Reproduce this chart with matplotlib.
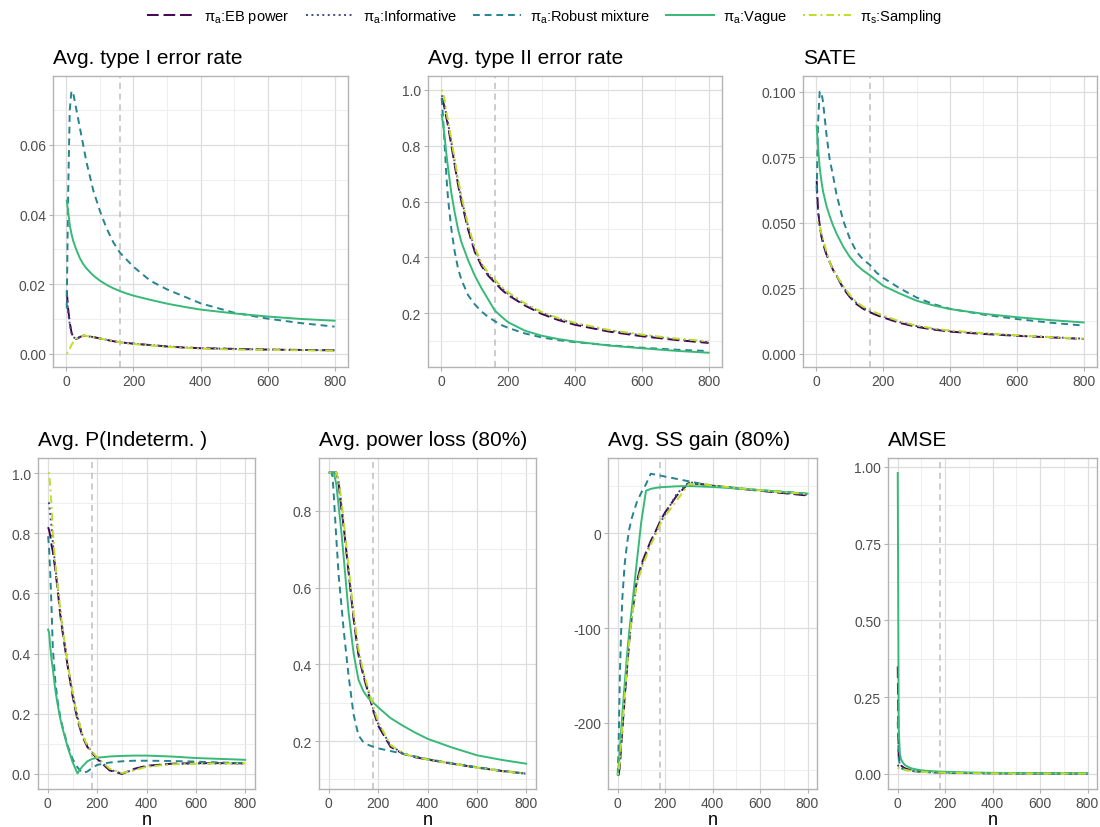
import numpy as np
import matplotlib
matplotlib.use('Agg')
import matplotlib.pyplot as plt
from matplotlib.lines import Line2D
from matplotlib.ticker import MultipleLocator, AutoMinorLocator, FormatStrFormatter

plt.rcParams['font.family'] = ['Liberation Sans', 'DejaVu Sans']
plt.rcParams['mathtext.fontset'] = 'custom'
plt.rcParams['mathtext.rm'] = 'Liberation Sans'
plt.rcParams['mathtext.it'] = 'Liberation Sans:italic'

# sample sizes (shared by every panel)
n_vals = [1, 5, 10, 15, 20, 30, 40, 50, 60, 80, 100, 120, 140, 160, 180, 200, 250, 300, 350, 400, 500, 600, 700, 800]

# Avg. type I error rate
t1_eb = [0.018, 0.013, 0.009, 0.0062, 0.0048, 0.0042, 0.0048, 0.0052, 0.0051, 0.0048, 0.0044, 0.0040, 0.0036, 0.0033, 0.0031, 0.0029, 0.0025, 0.0021, 0.0018, 0.0016, 0.0014, 0.0012, 0.0011, 0.0010]
t1_inf = [0.017, 0.012, 0.0085, 0.006, 0.0048, 0.0043, 0.0049, 0.0052, 0.0051, 0.0048, 0.0044, 0.0040, 0.0036, 0.0033, 0.0031, 0.0029, 0.0025, 0.0021, 0.0018, 0.0016, 0.0014, 0.0012, 0.0011, 0.0010]
t1_rob = [0.013, 0.045, 0.070, 0.0755, 0.075, 0.070, 0.065, 0.060, 0.055, 0.047, 0.041, 0.036, 0.032, 0.029, 0.027, 0.025, 0.021, 0.0185, 0.0165, 0.0145, 0.0118, 0.0101, 0.0088, 0.0078]
t1_vag = [0.044, 0.041, 0.037, 0.0345, 0.0325, 0.0298, 0.0275, 0.0258, 0.0245, 0.0225, 0.021, 0.0198, 0.0188, 0.018, 0.0173, 0.0167, 0.0155, 0.0144, 0.0135, 0.0127, 0.0116, 0.0107, 0.0100, 0.0095]
t1_sam = [0.0, 0.0005, 0.0015, 0.0025, 0.0033, 0.0042, 0.0048, 0.0052, 0.0051, 0.0048, 0.0044, 0.0040, 0.0036, 0.0033, 0.0030, 0.0028, 0.0024, 0.0020, 0.0017, 0.0015, 0.0012, 0.0011, 0.0010, 0.0009]

# Avg. type II error rate
t2_eb = [0.97, 0.96, 0.93, 0.90, 0.87, 0.80, 0.73, 0.66, 0.60, 0.50, 0.42, 0.37, 0.335, 0.31, 0.285, 0.265, 0.228, 0.198, 0.176, 0.159, 0.135, 0.118, 0.105, 0.094]
t2_inf = [0.98, 0.97, 0.94, 0.91, 0.88, 0.81, 0.74, 0.67, 0.61, 0.51, 0.43, 0.375, 0.34, 0.315, 0.29, 0.27, 0.232, 0.202, 0.18, 0.163, 0.139, 0.121, 0.108, 0.097]
t2_rob = [0.97, 0.90, 0.80, 0.69, 0.61, 0.50, 0.42, 0.36, 0.32, 0.265, 0.232, 0.207, 0.187, 0.172, 0.158, 0.148, 0.128, 0.114, 0.104, 0.097, 0.086, 0.077, 0.070, 0.065]
t2_vag = [0.91, 0.88, 0.83, 0.77, 0.72, 0.63, 0.56, 0.50, 0.455, 0.39, 0.335, 0.29, 0.25, 0.21, 0.188, 0.168, 0.138, 0.12, 0.108, 0.099, 0.085, 0.075, 0.066, 0.059]
t2_sam = [1.0, 0.99, 0.96, 0.92, 0.89, 0.82, 0.75, 0.68, 0.62, 0.515, 0.435, 0.38, 0.345, 0.32, 0.295, 0.275, 0.236, 0.205, 0.183, 0.166, 0.141, 0.124, 0.11, 0.10]

# SATE
sate_eb = [0.066, 0.055, 0.049, 0.045, 0.042, 0.038, 0.035, 0.032, 0.030, 0.025, 0.0217, 0.019, 0.0172, 0.0159, 0.0148, 0.0139, 0.0118, 0.0103, 0.0093, 0.0085, 0.0076, 0.0069, 0.0063, 0.0057]
sate_inf = [0.064, 0.054, 0.049, 0.045, 0.043, 0.038, 0.035, 0.032, 0.030, 0.0255, 0.022, 0.0194, 0.0176, 0.0163, 0.0152, 0.0143, 0.0121, 0.0106, 0.0095, 0.0087, 0.0078, 0.0070, 0.0064, 0.0058]
sate_rob = [0.062, 0.088, 0.100, 0.100, 0.096, 0.084, 0.074, 0.068, 0.061, 0.051, 0.044, 0.039, 0.036, 0.034, 0.031, 0.029, 0.025, 0.0215, 0.019, 0.0172, 0.0150, 0.0133, 0.0119, 0.0108]
sate_vag = [0.087, 0.079, 0.071, 0.066, 0.062, 0.0565, 0.0525, 0.049, 0.046, 0.041, 0.037, 0.034, 0.0318, 0.030, 0.028, 0.026, 0.023, 0.0203, 0.0185, 0.0171, 0.0153, 0.014, 0.0129, 0.012]
sate_sam = [0.050, 0.050, 0.049, 0.046, 0.044, 0.039, 0.035, 0.032, 0.030, 0.026, 0.0225, 0.0198, 0.018, 0.0167, 0.0156, 0.0146, 0.0124, 0.0108, 0.0097, 0.0089, 0.0079, 0.0071, 0.0064, 0.0058]

# Avg. P(Indeterm. )
pi_eb = [0.82, 0.81, 0.79, 0.76, 0.74, 0.68, 0.61, 0.53, 0.47, 0.36, 0.26, 0.18, 0.125, 0.09, 0.07, 0.05, 0.012, 0.0, 0.017, 0.027, 0.034, 0.036, 0.036, 0.035]
pi_inf = [0.9, 0.9, 0.86, 0.82, 0.77, 0.69, 0.62, 0.545, 0.48, 0.37, 0.27, 0.19, 0.13, 0.095, 0.072, 0.053, 0.015, 0.001, 0.015, 0.026, 0.033, 0.035, 0.035, 0.035]
pi_rob = [0.79, 0.75, 0.66, 0.55, 0.42, 0.31, 0.24, 0.19, 0.155, 0.095, 0.05, 0.022, 0.003, 0.008, 0.02, 0.03, 0.038, 0.042, 0.044, 0.044, 0.043, 0.041, 0.038, 0.036]
pi_vag = [0.48, 0.47, 0.42, 0.38, 0.35, 0.28, 0.23, 0.185, 0.15, 0.09, 0.04, 0.002, 0.025, 0.042, 0.05, 0.054, 0.058, 0.06, 0.061, 0.061, 0.058, 0.053, 0.05, 0.047]
pi_sam = [1.0, 1.0, 0.95, 0.89, 0.81, 0.70, 0.62, 0.55, 0.48, 0.37, 0.27, 0.19, 0.13, 0.095, 0.073, 0.055, 0.018, 0.003, 0.012, 0.024, 0.032, 0.034, 0.035, 0.035]

# Avg. power loss (80%)
pl_eb = [0.9, 0.9, 0.9, 0.9, 0.9, 0.9, 0.87, 0.81, 0.76, 0.64, 0.52, 0.425, 0.37, 0.325, 0.28, 0.24, 0.185, 0.167, 0.158, 0.152, 0.141, 0.131, 0.122, 0.115]
pl_inf = [0.9, 0.9, 0.9, 0.9, 0.9, 0.9, 0.875, 0.82, 0.765, 0.645, 0.527, 0.43, 0.375, 0.33, 0.285, 0.245, 0.188, 0.168, 0.158, 0.152, 0.141, 0.131, 0.122, 0.115]
pl_rob = [0.9, 0.9, 0.9, 0.89, 0.84, 0.73, 0.63, 0.56, 0.49, 0.37, 0.27, 0.215, 0.197, 0.19, 0.185, 0.181, 0.174, 0.167, 0.16, 0.153, 0.142, 0.132, 0.123, 0.115]
pl_vag = [0.9, 0.9, 0.9, 0.9, 0.9, 0.87, 0.81, 0.75, 0.68, 0.535, 0.43, 0.36, 0.33, 0.312, 0.300, 0.288, 0.26, 0.24, 0.222, 0.206, 0.183, 0.163, 0.151, 0.141]
pl_sam = [0.9, 0.9, 0.9, 0.9, 0.9, 0.9, 0.88, 0.83, 0.775, 0.655, 0.535, 0.44, 0.38, 0.335, 0.29, 0.25, 0.19, 0.168, 0.158, 0.152, 0.141, 0.131, 0.122, 0.115]

# Avg. SS gain (80%)
ss_eb = [-255, -255, -245, -226, -209, -174, -143, -112, -88, -52, -33, -20, -8, 2, 13, 22, 40, 53, 52, 50, 47.5, 45, 42.5, 40]
ss_inf = [-255, -254, -243, -224, -207, -173, -142, -112, -89, -53, -35, -22, -10, 0, 11, 20, 42, 54, 52.5, 50.5, 47.8, 45.3, 42.8, 40.5]
ss_rob = [-255, -220, -150, -105, -70, -33, -11, 5, 16, 32, 43, 52, 63, 62, 61, 60, 57.5, 55, 52.5, 50.5, 48, 45.6, 43.8, 42]
ss_vag = [-255, -245, -228, -210, -192, -160, -129, -102, -80, -33, 12, 45, 47, 48, 48.7, 49, 49.7, 50, 49.5, 49, 47.5, 45.6, 43.8, 42]
ss_sam = [-255, -252, -240, -222, -205, -172, -142, -113, -90, -55, -38, -25, -12, -2, 10, 18, 35, 52, 52, 50.5, 48, 45.6, 43.5, 41.5]

# AMSE
amse_eb = [0.35, 0.06, 0.035, 0.028, 0.024, 0.019, 0.016, 0.014, 0.012, 0.0095, 0.008, 0.007, 0.006, 0.0055, 0.005, 0.0045, 0.0037, 0.0031, 0.0027, 0.0024, 0.0019, 0.0016, 0.0014, 0.0012]
amse_inf = [0.03, 0.025, 0.022, 0.02, 0.018, 0.015, 0.013, 0.0115, 0.0102, 0.0085, 0.0072, 0.0063, 0.0056, 0.005, 0.0045, 0.0041, 0.0034, 0.0029, 0.0025, 0.0022, 0.0018, 0.0015, 0.0013, 0.0011]
amse_rob = [0.17, 0.05, 0.03, 0.022, 0.018, 0.014, 0.012, 0.0105, 0.0095, 0.008, 0.007, 0.0062, 0.0056, 0.0051, 0.0047, 0.0043, 0.0036, 0.0031, 0.0027, 0.0024, 0.002, 0.0017, 0.0015, 0.0013]
amse_vag = [0.98, 0.15, 0.065, 0.048, 0.04, 0.03, 0.025, 0.021, 0.018, 0.0145, 0.012, 0.0105, 0.0095, 0.0085, 0.0077, 0.007, 0.0057, 0.0048, 0.0042, 0.0037, 0.003, 0.0025, 0.0022, 0.002]
amse_sam = [0.02, 0.019, 0.018, 0.017, 0.016, 0.014, 0.012, 0.011, 0.0098, 0.0082, 0.007, 0.0061, 0.0054, 0.0049, 0.0044, 0.004, 0.0033, 0.0028, 0.0024, 0.0021, 0.0017, 0.0014, 0.0012, 0.0011]

series_names = ['π$_{\\mathrm{a}}$:EB power', 'π$_{\\mathrm{a}}$:Informative', 'π$_{\\mathrm{a}}$:Robust mixture',
                'π$_{\\mathrm{a}}$:Vague', 'π$_{\\mathrm{s}}$:Sampling']
cols = [plt.cm.viridis(v) for v in np.linspace(0, 0.9, 5)]
styles = [(0, (6, 2.5)), (0, (1, 1.8)), (0, (3.5, 2.5)), '-', (0, (1, 2, 4, 2))]

# title, data, y tick step, format, vline, y limits, axes box in pixels (left, top, right, bottom)
panels = [
    ('Avg. type I error rate', [t1_eb, t1_inf, t1_rob, t1_vag, t1_sam], 0.02, '%.2f', 160, (-0.0038, 0.0798), (53, 77, 348, 368)),
    ('Avg. type II error rate', [t2_eb, t2_inf, t2_rob, t2_vag, t2_sam], 0.2, '%.1f', 160, (0.008, 1.049), (428, 77, 722, 368)),
    ('SATE', [sate_eb, sate_inf, sate_rob, sate_vag, sate_sam], 0.025, '%.3f', 160, (-0.005, 0.106), (803, 77, 1097, 368)),
    ('Avg. P(Indeterm. )', [pi_eb, pi_inf, pi_rob, pi_vag, pi_sam], 0.2, '%.1f', 180, (-0.05, 1.05), (38, 459, 255, 790)),
    ('Avg. power loss (80%)', [pl_eb, pl_inf, pl_rob, pl_vag, pl_sam], 0.2, '%.1f', 180, (0.075, 0.938), (319, 459, 536, 790)),
    ('Avg. SS gain (80%)', [ss_eb, ss_inf, ss_rob, ss_vag, ss_sam], 100, '%d', 180, (-270, 79.6), (608, 459, 817, 790)),
    ('AMSE', [amse_eb, amse_inf, amse_rob, amse_vag, amse_sam], 0.25, '%.2f', 180, (-0.049, 1.029), (888, 459, 1097, 790)),
]

W, H = 1100, 828
fig = plt.figure(figsize=(W / 100, H / 100), dpi=100)

for k, (title, data, step, fmt, vline, ylim, box) in enumerate(panels):
    l, t, r, b = box
    ax = fig.add_axes([l / W, 1 - b / H, (r - l) / W, (b - t) / H])
    for i in range(5):
        ax.plot(n_vals, data[i], color=cols[i], linestyle=styles[i], lw=1.4, zorder=3)
    ax.axvline(vline, color='#BEBEBE', linestyle=(0, (4, 3)), lw=1.1, zorder=2)

    ax.set_ylim(*ylim)
    ax.set_xlim(-40, 840)

    ax.xaxis.set_major_locator(MultipleLocator(200))
    ax.xaxis.set_minor_locator(AutoMinorLocator(2))
    ax.yaxis.set_major_locator(MultipleLocator(step))
    ax.yaxis.set_minor_locator(AutoMinorLocator(2))
    ax.yaxis.set_major_formatter(FormatStrFormatter(fmt))

    ax.grid(which='major', color='#DEDEDE', lw=0.9, zorder=0)
    ax.grid(which='minor', color='#EBEBEB', lw=0.6, zorder=0)
    ax.set_axisbelow(True)
    for s in ax.spines.values():
        s.set_color('#B3B3B3')
        s.set_linewidth(1.0)
    ax.tick_params(which='major', length=3, color='#B3B3B3', labelcolor='#4D4D4D', labelsize=10, pad=2)
    ax.tick_params(which='minor', length=0)
    ax.set_title(title, loc='left', fontsize=15, pad=9)
    if k >= 3:
        ax.set_xlabel('n', fontsize=13, labelpad=1)

handles = [Line2D([0], [0], color=cols[i], linestyle=styles[i], lw=1.4) for i in range(5)]
fig.legend(handles, series_names, loc='center', bbox_to_anchor=(0.495, 0.979), ncol=5, frameon=False,
           fontsize=10.5, handlelength=3.3, handletextpad=0.6, columnspacing=1.1)

fig.savefig('out.png', dpi=100)
